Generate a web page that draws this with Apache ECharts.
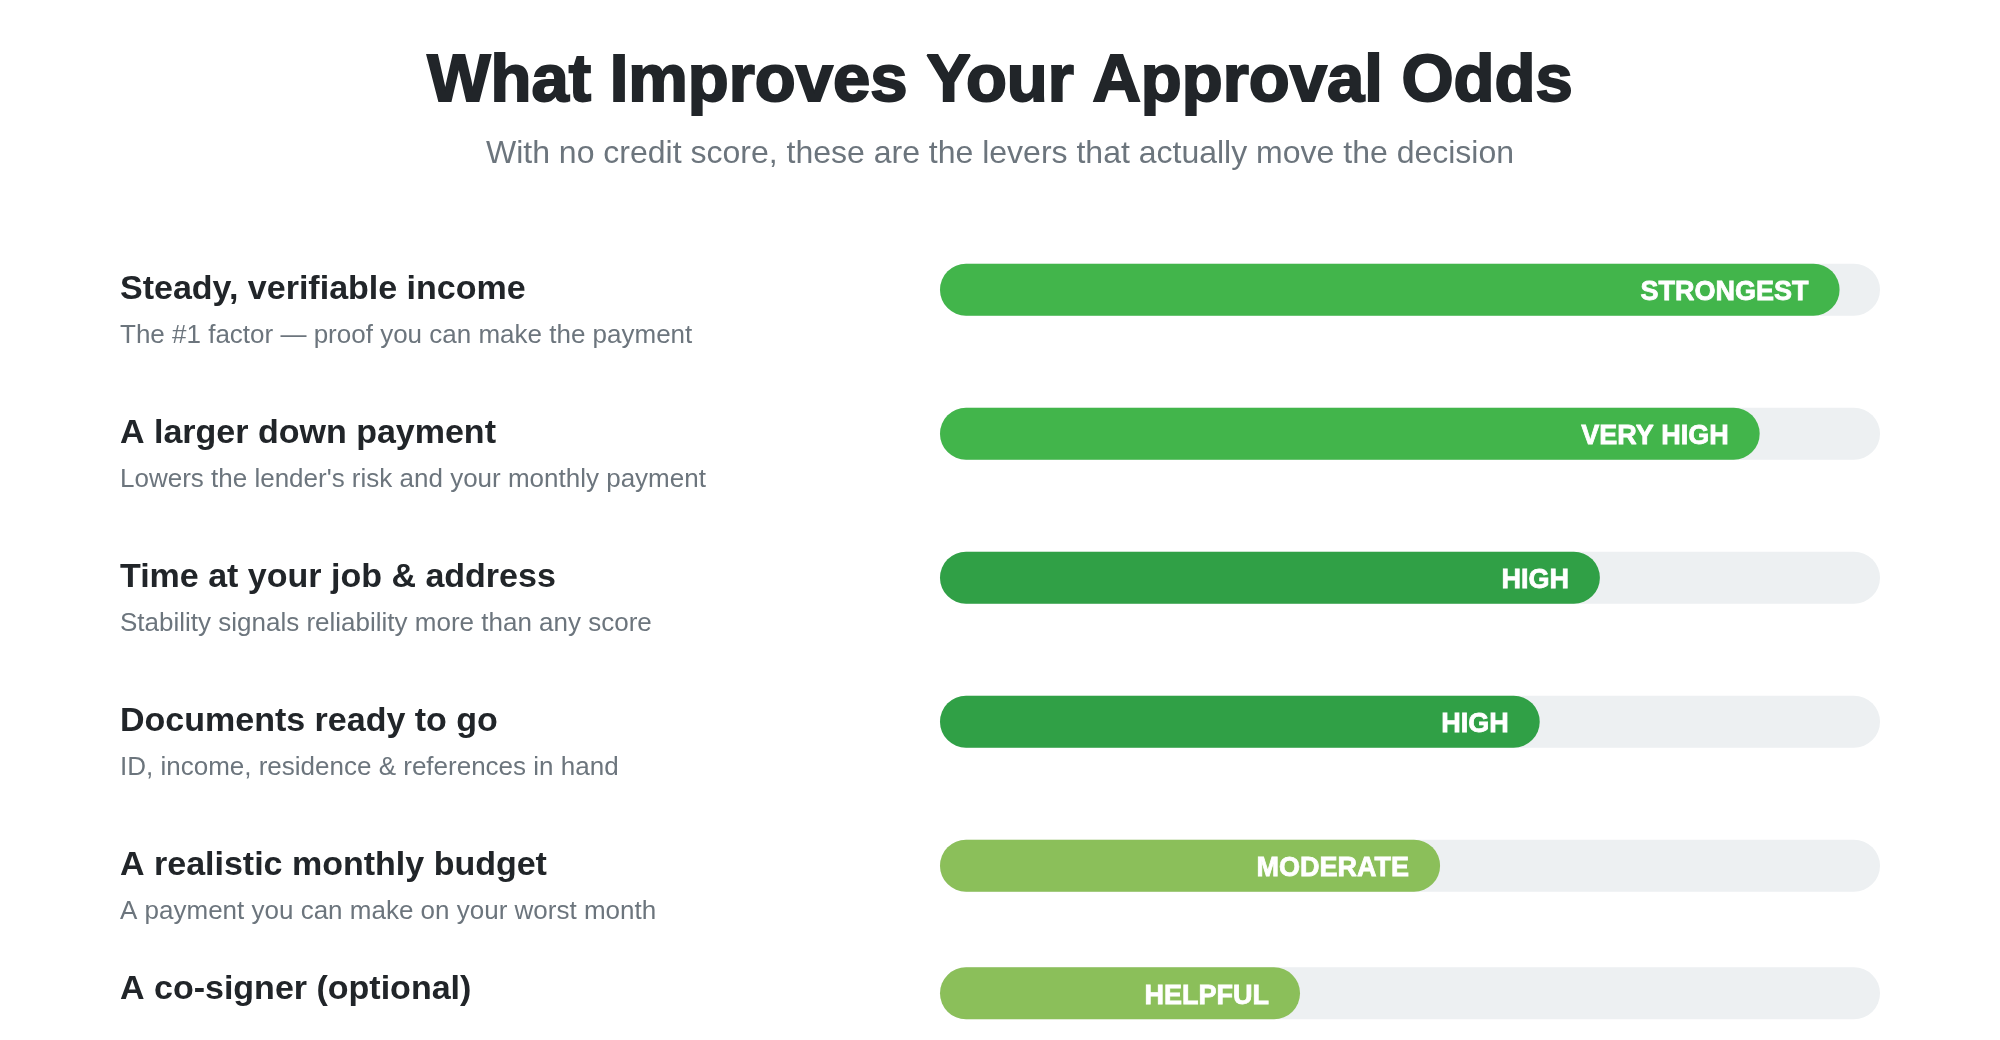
<!DOCTYPE html>
<html>
<head>
<meta charset="utf-8">
<script src="https://cdn.jsdelivr.net/npm/echarts@6/dist/echarts.min.js"></script>
<style>
  html, body { margin: 0; padding: 0; background: #fff; }
  #chart { width: 2000px; height: 1040px; }
</style>
</head>
<body>
<div id="chart"></div>
<script>
// factors, top to bottom
const factors = [
  'Steady, verifiable income',
  'A larger down payment',
  'Time at your job & address',
  'Documents ready to go',
  'A realistic monthly budget',
  'A co-signer (optional)'
]
const notes = [
  'The #1 factor \u2014 proof you can make the payment',
  "Lowers the lender's risk and your monthly payment",
  'Stability signals reliability more than any score',
  'ID, income, residence & references in hand',
  'A payment you can make on your worst month',
  ''
]
const impact = [95.7, 87.2, 70.2, 63.8, 53.2, 38.3] // % of track
const levels = ['STRONGEST', 'VERY HIGH', 'HIGH', 'HIGH', 'MODERATE', 'HELPFUL']

const levelColor = {
  'STRONGEST': '#42b54b',
  'VERY HIGH': '#42b54b',
  'HIGH': '#30a046',
  'MODERATE': '#8bbf5a',
  'HELPFUL': '#8bbf5a'
}

// layout: bar centre of each row (px)
const rowCentres = [289.7, 433.7, 577.7, 721.7, 865.7, 993.3]
const barH = 52
const trackLeft = 940
const trackW = 940
const FONT = '"Liberation Sans", Arial, Helvetica, sans-serif'

const grids = [], xAxes = [], yAxes = [], series = []
factors.forEach((name, i) => {
  grids.push({ left: trackLeft, width: trackW, top: rowCentres[i] - barH / 2, height: barH })
  xAxes.push({ gridIndex: i, type: 'value', min: 0, max: 100, show: false })
  yAxes.push({
    gridIndex: i, type: 'category', data: [name],
    axisLine: { show: false }, axisTick: { show: false },
    axisLabel: {
      align: 'left', margin: trackLeft - 120,
      formatter: () => notes[i] ? '{sp|}\n{t|' + name + '}\n{s|' + notes[i] + '}' : '{t2|' + name + '}',
      rich: {
        sp: { height: 46, lineHeight: 46 },
        t: { fontFamily: FONT, fontSize: 34, fontWeight: 'bold', color: '#212529', lineHeight: 46 },
        t2: { fontFamily: FONT, fontSize: 34, fontWeight: 'bold', color: '#212529', lineHeight: 46, padding: [0, 0, 8, 0] },
        s: { fontFamily: FONT, fontSize: 26, color: '#6c757d', lineHeight: 46 }
      }
    }
  })
  series.push({
    type: 'bar', xAxisIndex: i, yAxisIndex: i,
    data: [impact[i]],
    barWidth: barH,
    showBackground: true,
    backgroundStyle: { color: '#edf0f2', borderRadius: barH / 2 },
    itemStyle: { color: levelColor[levels[i]], borderRadius: barH / 2 },
    label: {
      show: true, position: 'insideRight', distance: 31, offset: [0, 3],
      formatter: () => levels[i],
      fontFamily: FONT, fontSize: 27, fontWeight: 'bold', color: '#fff',
      textBorderColor: '#fff', textBorderWidth: 0.8
    },
    silent: true
  })
})

const chart = echarts.init(document.getElementById('chart'))
chart.setOption({
  animation: false,
  title: {
    text: 'What Improves Your Approval Odds',
    subtext: 'With no credit score, these are the levers that actually move the decision',
    left: 'center', top: 44, itemGap: 20,
    textStyle: {
      fontFamily: FONT, fontSize: 67, fontWeight: 900, color: '#212529',
      textBorderColor: '#212529', textBorderWidth: 2
    },
    subtextStyle: { fontFamily: FONT, fontSize: 32, color: '#6c757d' }
  },
  grid: grids,
  xAxis: xAxes,
  yAxis: yAxes,
  series
})
window.addEventListener('resize', () => chart.resize())
</script>
</body>
</html>
